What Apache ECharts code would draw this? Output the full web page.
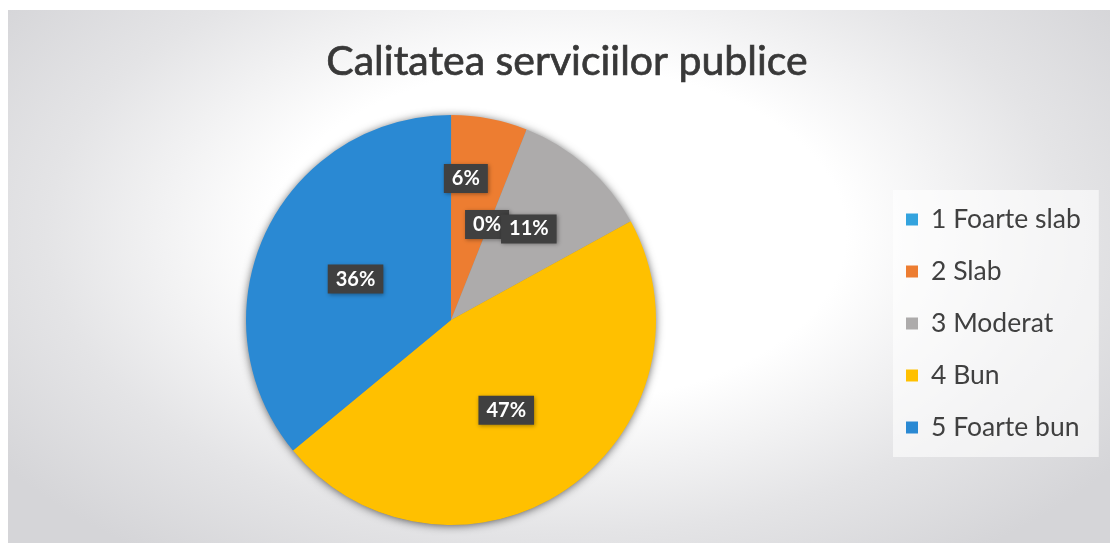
<!DOCTYPE html>
<html>
<head>
<meta charset="utf-8">
<script src="https://cdn.jsdelivr.net/npm/echarts@6/dist/echarts.min.js"></script>
<style>
  html, body { margin: 0; padding: 0; background: #ffffff; }
  #wrap { position: relative; width: 1110px; height: 543px; }
  /* light vignette behind the plot, with a thin white margin top and left */
  #backdrop {
    position: absolute; left: 8px; top: 10px; right: 0; bottom: 0;
    background: radial-gradient(ellipse 62% 75% at 50% 42%, #ffffff 0%, #ffffff 42%, #e4e4e6 75%, #d5d5d8 100%);
  }
  #chart { position: absolute; left: 0; top: 0; width: 1110px; height: 543px; }
</style>
</head>
<body>
<div id="wrap">
  <div id="backdrop"></div>
  <div id="chart"></div>
</div>
<script>
// Survey answers: quality of public services (percent of respondents)
const categories = ['1 Foarte slab', '2 Slab', '3 Moderat', '4 Bun', '5 Foarte bun'];
const shares = [0, 6, 11, 47, 36];
const sliceColors = ['#33A3DE', '#ED7D31', '#ADABAB', '#FFC000', '#2A89D3'];
// nudges for the value boxes, per slice
const labelNudges = [[36, 10], [-5, -38], [8, -12], [-4, 3], [0, 4]];

const chart = echarts.init(document.getElementById('chart'), null, { renderer: 'canvas' });

const total = shares.reduce((a, b) => a + b, 0);

const option = {
  backgroundColor: 'transparent',
  animation: false,
  title: {
    text: 'Calitatea serviciilor publice',
    left: 562,
    top: 36,
    textAlign: 'center',
    textStyle: {
      fontFamily: 'Lato',
      fontSize: 41,
      fontWeight: 'normal',
      color: '#383838',
      textBorderColor: '#383838',
      textBorderWidth: 0.7
    }
  },
  legend: {
    orient: 'vertical',
    left: 893,
    top: 190,
    padding: [16, 18, 16, 13],
    itemGap: 25,
    itemWidth: 12,
    itemHeight: 12,
    icon: 'rect',
    backgroundColor: 'rgba(255,255,255,0.6)',
    textStyle: {
      fontFamily: 'Lato',
      fontSize: 26.5,
      color: '#404040',
      padding: [0, 0, 0, 8]
    },
    data: categories
  },
  series: [
    {
      // soft drop shadow under the whole disc
      type: 'pie',
      silent: true,
      center: [451, 321],
      radius: 204,
      z: 1,
      label: { show: false },
      labelLine: { show: false },
      itemStyle: {
        color: '#8a8a8a',
        shadowBlur: 10,
        shadowColor: 'rgba(0,0,0,0.7)'
      },
      legendHoverLink: false,
      data: [{ value: total, name: '' }]
    },
    {
      type: 'pie',
      center: [451, 320],
      radius: 205,
      startAngle: 90,
      clockwise: true,
      z: 2,
      minAngle: 0.05,
      minShowLabelAngle: -1,
      avoidLabelOverlap: false,
      itemStyle: { borderWidth: 0 },
      label: {
        show: true,
        position: 'inside',
        formatter: p => Math.round(p.percent) + '%',
        fontFamily: 'Lato',
        fontSize: 20,
        fontWeight: 'bold',
        color: '#ffffff',
        backgroundColor: '#404040',
        padding: [5, 8, 4, 8],
        shadowBlur: 4,
        shadowColor: 'rgba(0,0,0,0.35)',
        shadowOffsetX: 1,
        shadowOffsetY: 1
      },
      labelLine: { show: false },
      data: categories.map((name, i) => ({
        name,
        value: shares[i],
        itemStyle: { color: sliceColors[i] },
        label: { offset: labelNudges[i] }
      }))
    }
  ]
};

chart.setOption(option);

// keep the value box of empty answer categories visible (e.g. "0%")
const pieData = chart.getModel().getSeriesByIndex(1).getData();
pieData.each(idx => {
  const sector = pieData.getItemGraphicEl(idx);
  const text = sector && sector.getTextContent();
  if (text && text.ignore) {
    text.ignore = false;
    text.markRedraw();
  }
});
chart.getZr().refreshImmediately();
</script>
</body>
</html>
